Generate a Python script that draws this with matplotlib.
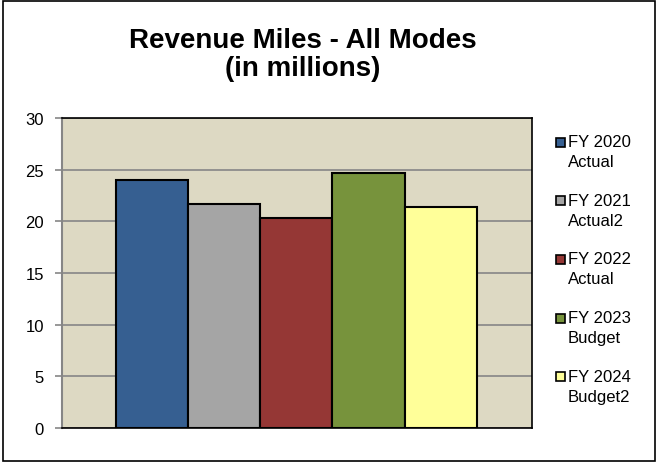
import matplotlib
matplotlib.use("Agg")
import matplotlib.pyplot as plt
from matplotlib.patches import Rectangle

# Data
series = ["FY 2020\nActual", "FY 2021\nActual2", "FY 2022\nActual", "FY 2023\nBudget", "FY 2024\nBudget2"]
values = [24.0, 21.7, 20.3, 24.7, 21.4]
colors = ["#365F91", "#A5A5A5", "#953735", "#77933C", "#FFFF99"]
yticks = [0, 5, 10, 15, 20, 25, 30]

plt.rcParams["font.family"] = ["Liberation Sans", "DejaVu Sans"]

W, H = 657, 464
fig = plt.figure(figsize=(W / 100, H / 100), dpi=100)

# outer chart border
fig.add_artist(Rectangle((3 / W, 2 / H), 652 / W, 460 / H, transform=fig.transFigure,
                         fill=False, edgecolor="black", linewidth=1.2))

ax = fig.add_axes([62 / W, 35 / H, 470 / W, 310 / H])
ax.set_facecolor("#DDD9C3")

x = list(range(len(values)))
ax.bar(x, values, width=1.0, color=colors, edgecolor="black", linewidth=1.5, zorder=3)

ax.set_xlim(-1.243, 5.261)
ax.set_ylim(0, 30)
ax.set_yticks(yticks)
ax.set_xticks([])
ax.yaxis.grid(True, color="#868686", linewidth=1.2, zorder=0)
ax.tick_params(axis="y", length=5, width=1.2, color="#868686", labelsize=12, pad=8)

for side in ["right", "bottom", "top"]:
    ax.spines[side].set_color("black")
    ax.spines[side].set_linewidth(1.2)
ax.spines["left"].set_color("#868686")
ax.spines["left"].set_linewidth(1.5)

# title
fig.text(303 / W, 1 - 55 / H, "Revenue Miles - All Modes\n(in millions)", ha="center", va="center",
         fontsize=20, fontweight="bold", linespacing=1.15)

# legend (square aligned to the first line of each label)
for i, (lab, c) in enumerate(zip(series, colors)):
    yc = 143 + i * 58.7
    fig.add_artist(Rectangle((556 / W, 1 - (yc + 4.5) / H), 9 / W, 9 / H, transform=fig.transFigure,
                             facecolor=c, edgecolor="black", linewidth=1.2))
    fig.text(568 / W, 1 - (yc - 8) / H, lab, ha="left", va="top", fontsize=12, linespacing=1.4)

fig.savefig("out.png", dpi=100)
